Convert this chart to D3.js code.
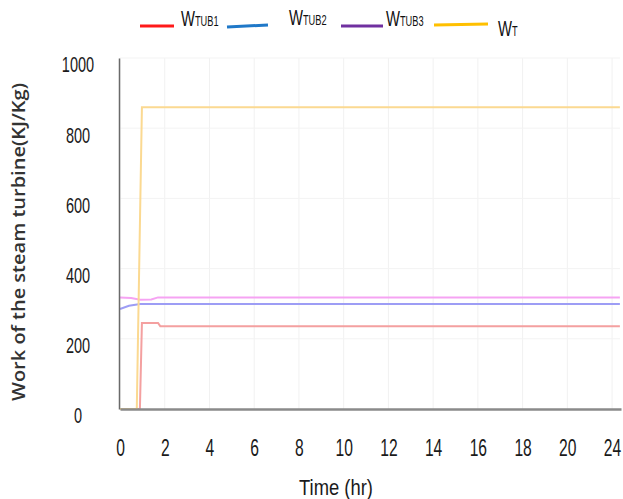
<!DOCTYPE html>
<html>
<head>
<meta charset="utf-8">
<script src="https://cdn.jsdelivr.net/npm/d3@7"></script>
<style>
  html, body { margin: 0; padding: 0; background: #fff; }
  svg { display: block; }
  .lib { font-family: "Liberation Sans", Arial, sans-serif; }
</style>
</head>
<body>
<svg id="chart" width="623" height="499"></svg>
<script>
// ---- Data ----
const xTickValues = [0, 2, 4, 6, 8, 10, 12, 14, 16, 18, 20, 22];
const xTickLabels = ["0", "2", "4", "6", "8", "10", "12", "14", "16", "18", "20", "24"];
const yTickValues = [0, 200, 400, 600, 800, 1000];

const seriesNames = ["W_TUB1", "W_TUB2", "W_TUB3", "W_T"];

const tub1Time = [0, 0.89, 0.98, 1.7, 1.8, 22.35];
const tub1Vals = [0, 0, 245, 245, 236, 236];

const tub2Time = [0, 0.4, 0.9, 22.35];
const tub2Vals = [285, 294, 299, 299];

const tub3Time = [0, 0.5, 0.9, 1.4, 1.7, 22.35];
const tub3Vals = [318, 316, 311, 312, 318, 318];

const wtTime = [0, 0.75, 0.98, 22.35];
const wtVals = [0, 0, 860, 860];

// ---- Styles ----
const lineColors = { W_TUB1: "#f4a0a0", W_TUB2: "#9d9df5", W_TUB3: "#f6a3f3", W_T: "#fbd991" };
const legendColors = { W_TUB1: "#ff1a1a", W_TUB2: "#1f78c8", W_TUB3: "#7030a0", W_T: "#ffc000" };

const svg = d3.select("#chart");
const x = d3.scaleLinear().domain([0, 22.4]).range([120, 621]);
const y = d3.scaleLinear().domain([0, 1000]).range([409, 58]);

// faint gridlines
svg.append("g").selectAll("line").data(xTickValues).join("line")
  .attr("x1", d => x(d)).attr("x2", d => x(d))
  .attr("y1", y(1000)).attr("y2", y(0))
  .attr("stroke", "#f1f1f1").attr("stroke-width", 1);
svg.append("g").selectAll("line").data(yTickValues.slice(1)).join("line")
  .attr("x1", x(0)).attr("x2", 620)
  .attr("y1", d => y(d)).attr("y2", d => y(d))
  .attr("stroke", "#f3f3f3").attr("stroke-width", 1);

// lines
const series = [
  { name: "W_TUB3", t: tub3Time, v: tub3Vals },
  { name: "W_TUB2", t: tub2Time, v: tub2Vals },
  { name: "W_TUB1", t: tub1Time, v: tub1Vals },
  { name: "W_T", t: wtTime, v: wtVals }
];
const line = d3.line().x(d => x(d[0])).y(d => y(d[1]));
svg.append("g").selectAll("path").data(series).join("path")
  .attr("d", s => line(s.t.map((t, i) => [t, s.v[i]])))
  .attr("fill", "none")
  .attr("stroke", s => lineColors[s.name])
  .attr("stroke-width", 2);

// axes
const yAxis = d3.axisLeft(y).tickValues(yTickValues).tickFormat(d3.format("d")).tickSize(0).tickPadding(0);
const gy = svg.append("g").attr("transform", "translate(119,0)").call(yAxis);
gy.select(".domain").attr("stroke", "#6a6a6a").attr("stroke-width", 1.5);
gy.selectAll("text")
  .attr("class", "lib")
  .attr("x", 0).attr("dy", "0.36em")
  .attr("transform", "translate(-41,6) scale(0.66,1)")
  .attr("text-anchor", "middle")
  .attr("font-size", 22).attr("fill", "#1a1a1a");

const xAxis = d3.axisBottom(x).tickValues(xTickValues)
  .tickFormat((d, i) => xTickLabels[i]).tickSize(0).tickPadding(0);
const gx = svg.append("g").attr("transform", "translate(0,409)").call(xAxis);
gx.select(".domain").attr("stroke", "#8a8a8a").attr("stroke-width", 2.5);
gx.selectAll("text")
  .attr("class", "lib")
  .attr("y", 0).attr("dy", 0)
  .attr("transform", "translate(0,47) scale(0.68,1)")
  .attr("font-size", 23).attr("fill", "#1a1a1a");

// axis titles
svg.append("text").attr("class", "lib")
  .attr("transform", "translate(336,495) scale(0.92,1.08)")
  .attr("text-anchor", "middle")
  .attr("font-size", 20).attr("fill", "#1a1a1a").text("Time (hr)");

svg.append("text")
  .attr("transform", "translate(25,242) rotate(-90)")
  .attr("text-anchor", "middle")
  .attr("font-family", "'Open Sans', sans-serif")
  .attr("font-weight", 600)
  .attr("font-size", 17.5).attr("fill", "#333")
  .attr("textLength", 318).attr("lengthAdjust", "spacingAndGlyphs")
  .text("Work of the steam turbine(KJ/Kg)");

// legend
const legendItems = [
  { name: "W_TUB1", sub: "TUB1", x1: 140, x2: 174, ly1: 26, ly2: 26, tx: 181, ty: 26 },
  { name: "W_TUB2", sub: "TUB2", x1: 227, x2: 268, ly1: 27, ly2: 25, tx: 289, ty: 25 },
  { name: "W_TUB3", sub: "TUB3", x1: 341, x2: 383, ly1: 26, ly2: 26, tx: 386, ty: 26 },
  { name: "W_T", sub: "T", x1: 434, x2: 488, ly1: 25, ly2: 24, tx: 498, ty: 36 }
];
const lg = svg.append("g");
legendItems.forEach(it => {
  lg.append("line").attr("x1", it.x1).attr("x2", it.x2).attr("y1", it.ly1).attr("y2", it.ly2)
    .attr("stroke", legendColors[it.name]).attr("stroke-width", 3);
  const t = lg.append("text").attr("class", "lib")
    .attr("transform", `translate(${it.tx},${it.ty}) scale(0.74,1.12)`)
    .attr("fill", "#111");
  t.append("tspan").attr("font-size", 20).text("W");
  t.append("tspan").attr("font-size", 12.5).text(it.sub);
});
</script>
</body>
</html>
